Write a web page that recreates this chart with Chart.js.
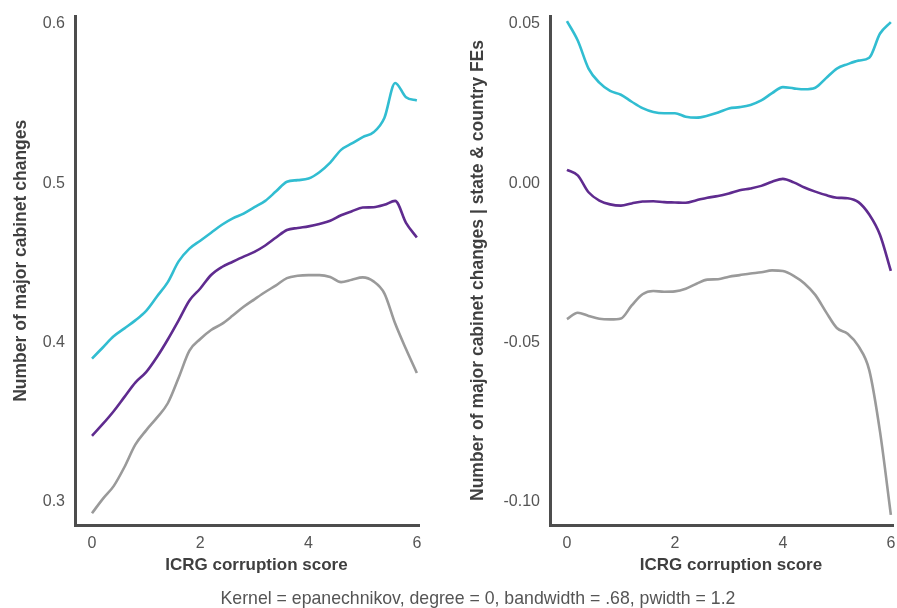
<!DOCTYPE html>
<html>
<head>
<meta charset="utf-8">
<script src="https://cdn.jsdelivr.net/npm/chart.js@4.4.1/dist/chart.umd.min.js"></script>
<style>
  html, body { margin: 0; padding: 0; background: #ffffff; }
  #wrap { position: relative; width: 897px; height: 608px; overflow: hidden; }
  #leftChart { position: absolute; left: 0; top: 0; }
  #rightChart { position: absolute; left: 450px; top: 0; }
  #note {
    position: absolute; left: 0; width: 956px; top: 587px;
    text-align: center; font: 17.7px/22px "Liberation Sans", Arial, sans-serif; color: #555;
    white-space: nowrap;
  }
</style>
</head>
<body>
<div id="wrap">
  <canvas id="leftChart" width="440" height="608"></canvas>
  <canvas id="rightChart" width="447" height="608"></canvas>
  <div id="note">Kernel = epanechnikov, degree = 0, bandwidth = .68, pwidth = 1.2</div>
</div>
<script>
// ICRG corruption score grid used by the local polynomial smooths
const scoreGrid = [0, 0.2, 0.4, 0.6, 0.8, 1.0, 1.2, 1.4, 1.6, 1.8, 2.0, 2.2, 2.4, 2.6, 2.8, 3.0,
                   3.2, 3.4, 3.6, 3.8, 4.0, 4.2, 4.4, 4.6, 4.8, 5.0, 5.2, 5.4, 5.6, 5.8, 6.0];

// Left panel: number of major cabinet changes (upper band, fit, lower band)
const rawUpper = [0.390, 0.397, 0.404, 0.409, 0.414, 0.420, 0.429, 0.438, 0.451, 0.459, 0.464,
                  0.469, 0.474, 0.478, 0.481, 0.485, 0.489, 0.495, 0.501, 0.502, 0.503, 0.507,
                  0.513, 0.521, 0.525, 0.529, 0.532, 0.541, 0.563, 0.554, 0.552];
const rawFit   = [0.3416, 0.349, 0.357, 0.366, 0.375, 0.3815, 0.391, 0.402, 0.414, 0.4265, 0.434,
                  0.4425, 0.4475, 0.4508, 0.454, 0.457, 0.461, 0.466, 0.4707, 0.472, 0.473, 0.4745,
                  0.4765, 0.480, 0.4825, 0.4848, 0.4850, 0.4865, 0.489, 0.4752, 0.466];
const rawLower = [0.293, 0.302, 0.310, 0.322, 0.336, 0.345, 0.353, 0.362, 0.378, 0.395, 0.4023,
                  0.408, 0.4118, 0.417, 0.4225, 0.4272, 0.4318, 0.436, 0.4405, 0.442, 0.4424, 0.4424,
                  0.4412, 0.438, 0.4395, 0.441, 0.4385, 0.431, 0.412, 0.396, 0.381];

// Right panel: residualised on state & country fixed effects
const feUpper = [0.0509, 0.0448, 0.0360, 0.0316, 0.0290, 0.0278, 0.0256, 0.0236, 0.0224, 0.0220, 0.0220,
                 0.0209, 0.0206, 0.0212, 0.0222, 0.0235, 0.0239, 0.0246, 0.0260, 0.0283, 0.0302, 0.0298,
                 0.0295, 0.0300, 0.0330, 0.0360, 0.0374, 0.0385, 0.0394, 0.0470, 0.0506];
const feFit   = [0.0042, 0.0025, -0.0028, -0.0054, -0.0066, -0.0070, -0.0063, -0.0057, -0.0056, -0.0059, -0.0060,
                 -0.0061, -0.0053, -0.0045, -0.0040, -0.0032, -0.0022, -0.0016, -0.0008, 0.0005, 0.0014, 0.0003,
                 -0.0013, -0.0026, -0.0037, -0.0045, -0.0047, -0.0059, -0.0098, -0.0162, -0.0275];
const feLower = [-0.0426, -0.0406, -0.0416, -0.0425, -0.0427, -0.0424, -0.0383, -0.0348, -0.0338, -0.0340, -0.0339,
                 -0.0331, -0.0315, -0.0302, -0.0301, -0.0293, -0.0288, -0.0283, -0.0279, -0.0273, -0.0275, -0.0290,
                 -0.0314, -0.0350, -0.0404, -0.0454, -0.0472, -0.0511, -0.0586, -0.0780, -0.1040];

// Axis ticks
const xTicks = [0, 2, 4, 6];
const xTickLabels = ['0', '2', '4', '6'];
const leftYTicks = [0.3, 0.4, 0.5, 0.6];
const leftYTickLabels = ['0.3', '0.4', '0.5', '0.6'];
const rightYTicks = [-0.10, -0.05, 0.00, 0.05];
const rightYTickLabels = ['-0.10', '-0.05', '0.00', '0.05'];

const COLORS = { upper: '#31bdd1', fit: '#5f2b8f', lower: '#9a9a9a' };
const TICK_FONT = { family: '"Liberation Sans", Arial, sans-serif', size: 16 };
const X_TITLE_FONT = { family: '"Liberation Sans", Arial, sans-serif', size: 17, weight: 'bold' };
const Y_TITLE_FONT = { family: '"Liberation Sans", Arial, sans-serif', size: 17.5, weight: 'bold' };

function toPoints(values) {
  return scoreGrid.map((x, i) => ({ x: x, y: values[i] }));
}

function line(values, color) {
  return {
    data: toPoints(values),
    borderColor: color,
    borderWidth: 2.6,
    pointRadius: 0,
    fill: false,
    cubicInterpolationMode: 'monotone'
  };
}

function makeChart(id, series, yTicks, yLabels, yMin, yMax, yTitle, yAxisWidth, titlePad, padRight) {
  return new Chart(document.getElementById(id), {
    type: 'line',
    data: { datasets: series },
    options: {
      responsive: false,
      animation: false,
      devicePixelRatio: 1,
      layout: { padding: { top: 16, right: padRight, bottom: 0, left: 0 } },
      plugins: { legend: { display: false }, tooltip: { enabled: false } },
      scales: {
        x: {
          type: 'linear',
          min: -0.314,
          max: 6.04,
          grid: { display: false, drawTicks: false },
          border: { display: true, color: '#4d4d4d', width: 3 },
          afterBuildTicks: s => { s.ticks = xTicks.map(v => ({ value: v })); },
          afterFit: s => { s.height = 83; s.paddingLeft = 0; s.paddingRight = 0; },
          ticks: {
            color: '#555', font: TICK_FONT, padding: 9, maxRotation: 0,
            callback: (v, i) => xTickLabels[i]
          },
          title: {
            display: true, text: '    ICRG corruption score', color: '#3f3f3f',
            font: X_TITLE_FONT, padding: { top: 0, bottom: 32 }
          }
        },
        y: {
          type: 'linear',
          min: yMin,
          max: yMax,
          grid: { display: false, drawTicks: false },
          border: { display: true, color: '#4d4d4d', width: 3 },
          afterBuildTicks: s => { s.ticks = yTicks.map(v => ({ value: v })); },
          afterFit: s => { s.width = yAxisWidth; s.paddingTop = 0; s.paddingBottom = 0; },
          ticks: {
            color: '#555', font: TICK_FONT, padding: 10,
            callback: (v, i) => yLabels[i]
          },
          title: {
            display: true, text: yTitle, color: '#3f3f3f',
            font: Y_TITLE_FONT, padding: { top: titlePad, bottom: 0 }
          }
        }
      }
    }
  });
}

makeChart('leftChart',
  [line(rawUpper, COLORS.upper), line(rawFit, COLORS.fit), line(rawLower, COLORS.lower)],
  leftYTicks, leftYTickLabels, 0.2856, 0.605,
  '    Number of major cabinet changes', 75, 11, 21);

makeChart('rightChart',
  [line(feUpper, COLORS.upper), line(feFit, COLORS.fit), line(feLower, COLORS.lower)],
  rightYTicks, rightYTickLabels, -0.1072, 0.0525,
  'Number of major cabinet changes | state & country FEs', 100, 18, 4);
</script>
</body>
</html>
